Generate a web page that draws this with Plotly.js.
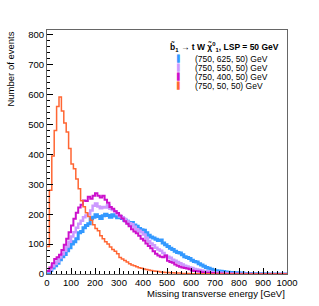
<!DOCTYPE html>
<html>
<head>
<meta charset="utf-8">
<script src="https://cdn.plot.ly/plotly-3.0.1.min.js"></script>
<style>html,body{margin:0;padding:0;background:#fff;}#chart{width:319px;height:306px;}</style>
</head>
<body>
<div id="chart"></div>
<script>
// Missing transverse energy histograms, 10 GeV bins from 0 to 1000 GeV
const binWidth = 10;
const seriesNames = ['(750, 625, 50) GeV', '(750, 550, 50) GeV', '(750, 400, 50) GeV', '(750, 50, 50) GeV'];
const seriesColors = ['#3399ff', '#cc99ff', '#cc11cc', '#ff6633'];
const seriesWidths = [3, 2.5, 2, 1.5];

const counts625 = [5,12,20,28,36,48,58,65,78,88,
  100,108,118,138,142,155,162,168,185,190,
  198,192,186,195,200,196,190,198,194,188,
  192,186,180,176,168,172,164,160,152,148,
  146,138,130,124,120,116,112,114,104,98,
  92,86,82,76,72,70,64,58,55,52,
  46,42,40,34,30,26,22,19,16,13,
  11,10,9,8,7,6,5,5,4,4,
  3,3,2,2,2,1,1,1,1,1,
  0,1,0,0,0,0,0,0,0,0];

const counts550 = [8,16,26,34,42,55,66,78,92,108,
  125,140,155,168,178,190,196,200,212,228,
  236,226,220,224,222,230,218,214,210,200,
  192,190,184,176,170,166,158,150,145,140,
  132,120,110,102,96,88,82,78,70,62,
  58,54,48,44,40,36,32,28,25,22,
  20,17,15,13,12,10,9,8,7,6,
  5,4,4,3,3,2,2,2,1,1,
  1,1,1,0,1,0,0,0,0,0,
  0,0,0,0,0,0,0,0,0,0];

const counts400 = [10,22,36,50,56,64,80,98,118,140,
  162,185,205,222,232,246,244,258,252,262,
  270,262,256,262,248,238,224,218,210,204,
  196,186,176,168,160,150,142,136,128,118,
  112,102,94,86,76,68,62,58,56,62,
  44,40,38,32,28,24,22,20,18,16,
  12,10,9,8,6,5,4,4,3,3,
  2,2,2,1,1,1,1,1,0,1,
  0,0,0,0,0,0,0,0,0,0,
  0,0,0,0,0,0,0,0,0,0];

const counts50 = [92,280,395,480,560,592,545,505,475,420,
  368,352,318,285,245,225,205,192,180,165,
  152,145,128,118,108,100,90,82,76,68,
  55,50,45,40,34,30,28,24,21,19,
  17,15,13,12,10,9,8,7,6,5,
  5,4,4,3,3,3,2,2,2,2,
  1,1,1,1,1,1,0,1,0,0,
  0,0,0,0,0,0,0,0,0,0,
  0,0,0,0,0,0,0,0,0,0,
  0,0,0,0,0,0,0,0,0,0];

const allCounts = [counts625, counts550, counts400, counts50];

const traces = allCounts.map((c, k) => {
  const x = c.map((_, i) => i * binWidth);
  x.push(c.length * binWidth);
  const y = c.slice();
  y.push(c[c.length - 1]);
  return {
    type: 'scatter', mode: 'lines', x: x, y: y,
    line: {shape: 'hv', color: seriesColors[k], width: seriesWidths[k]},
    name: seriesNames[k], showlegend: false, hoverinfo: 'skip'
  };
});

const axisFont = {family: 'Liberation Sans, Arial, sans-serif', size: 9.5, color: '#000'};

const annotations = [
  {xref: 'paper', yref: 'paper', x: 0.505, y: 0.93, xanchor: 'left', yanchor: 'middle', showarrow: false,
   text: '<b>b\u0303<sub>1</sub> \u2192 t W \u03c7\u0303<sup>0</sup><sub>1</sub>, LSP = 50 GeV</b>',
   font: {family: 'Liberation Sans, Arial, sans-serif', size: 8.5, color: '#000'}},
  {xref: 'paper', yref: 'paper', x: 1, y: -0.078, xanchor: 'right', yanchor: 'middle', showarrow: false,
   text: 'Missing transverse energy [GeV]', font: axisFont},
  {xref: 'paper', yref: 'paper', x: -0.154, y: 1, xanchor: 'center', yanchor: 'top', showarrow: false,
   textangle: -90, text: 'Number of events', font: axisFont}
];
const rowY = [0.883, 0.846, 0.809, 0.772];
seriesNames.forEach((n, k) => {
  annotations.push({xref: 'paper', yref: 'paper', x: 0.548, y: rowY[k], xanchor: 'center', yanchor: 'middle',
    showarrow: false, text: '\u258C', font: {family: 'DejaVu Sans', size: 7, color: seriesColors[k]}});
  annotations.push({xref: 'paper', yref: 'paper', x: 0.61, y: rowY[k], xanchor: 'left', yanchor: 'middle',
    showarrow: false, text: n, font: {family: 'Liberation Sans, Arial, sans-serif', size: 8.5, color: '#000'}});
});

const layout = {
  width: 319, height: 306,
  margin: {l: 47, r: 32, t: 30, b: 32, pad: 0},
  paper_bgcolor: '#fff', plot_bgcolor: '#fff',
  showlegend: false,
  xaxis: {
    range: [0, 1000], dtick: 100, tick0: 0, ticks: 'inside', ticklen: 6, tickwidth: 1, tickcolor: '#000',
    minor: {dtick: 20, ticks: 'inside', ticklen: 3, tickcolor: '#000'},
    showline: true, linecolor: '#666', linewidth: 1, mirror: true, showgrid: false, zeroline: false,
    tickfont: axisFont, automargin: false
  },
  yaxis: {
    range: [0, 816], dtick: 100, tick0: 0, ticks: 'inside', ticklen: 6, tickwidth: 1, tickcolor: '#000',
    minor: {dtick: 20, ticks: 'inside', ticklen: 3, tickcolor: '#000'},
    showline: true, linecolor: '#666', linewidth: 1, mirror: true, showgrid: false, zeroline: false,
    tickfont: axisFont, automargin: false
  },
  annotations: annotations
};

Plotly.newPlot('chart', traces, layout, {staticPlot: true, displayModeBar: false});
</script>
</body>
</html>
